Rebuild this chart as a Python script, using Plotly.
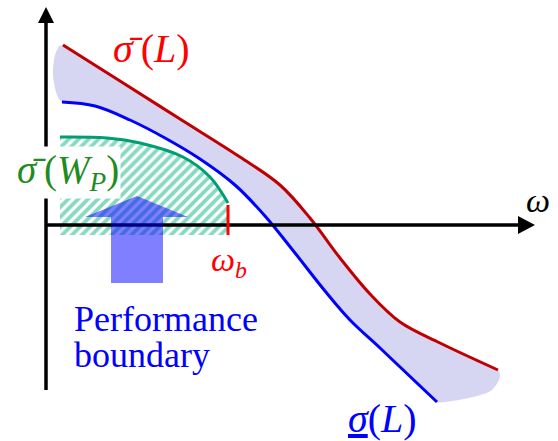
import plotly.graph_objects as go

# Diagram units: origin at the axes corner, one unit per pixel.
# Upper singular value curve  sigma_bar(L)
w_upper = [17, 74, 134, 194, 234, 264, 294, 324, 354, 394, 452]
mag_upper = [180, 144, 106, 68, 40, 7, -33, -69, -97, -118, -145]

# Lower singular value curve  sigma_underline(L)
w_lower = [16, 49, 84, 119, 154, 189, 219, 249, 279, 304, 334, 391]
mag_lower = [123, 119, 105, 87, 66, 40, 9, -28, -66, -95, -123, -177]

# Rounded ends of the band between the two curves
cap_right_w = [454, 446, 427, 399]
cap_right_mag = [-152, -165, -172, -177]
cap_left_w = [11, 7, 9, 13]
cap_left_mag = [130, 150, 170, 179]

# Performance weight sigma_bar(W_P) up to the bandwidth w_b
w_perf = [14, 61, 94, 137, 164, 182]
mag_perf = [88, 87, 82, 68, 48, 22]
perf_floor = -10
w_b = 182

# Upward "performance boundary" arrow outline
arrow_w = [91, 142, 117, 117, 65, 65, 39]
arrow_mag = [29, 8, 8, -58, -58, 8, 8]

RED_LINE = "#c00000"
RED_TEXT = "#ff0000"
BLUE = "#0000ff"
GREEN_LINE = "#009e73"
HATCH = "#12b383"
GREEN_TEXT = "#1f8c1f"
BAND = "#d6d6f3"
FONT = "Liberation Serif"
TS = "\u2009"  # thin space after the barred sigma

fig = go.Figure()

# shaded band between the singular values
band_x = w_upper + cap_right_w + w_lower[::-1] + cap_left_w
band_y = mag_upper + cap_right_mag + mag_lower[::-1] + cap_left_mag
fig.add_trace(go.Scatter(
    x=band_x, y=band_y, mode="lines", fill="toself", fillcolor=BAND,
    line=dict(width=0, color="rgba(0,0,0,0)", shape="spline", smoothing=0.8),
    hoverinfo="skip"))

# hatched performance region
hx = w_perf + [w_b, w_perf[0]]
hy = mag_perf + [perf_floor, perf_floor]
fig.add_trace(go.Scatter(
    x=hx, y=hy, mode="lines", fill="toself", fillcolor="rgba(0,0,0,0)",
    fillpattern=dict(shape="/", fgcolor=HATCH, bgcolor="rgba(0,0,0,0)",
                     size=7, solidity=0.55),
    line=dict(width=0, color="rgba(0,0,0,0)"), hoverinfo="skip"))

fig.add_trace(go.Scatter(x=w_perf, y=mag_perf, mode="lines",
                         line=dict(color=GREEN_LINE, width=3, shape="spline"),
                         hoverinfo="skip"))
fig.add_trace(go.Scatter(x=w_upper, y=mag_upper, mode="lines",
                         line=dict(color=RED_LINE, width=3, shape="spline", smoothing=1),
                         hoverinfo="skip"))
fig.add_trace(go.Scatter(x=w_lower, y=mag_lower, mode="lines",
                         line=dict(color=BLUE, width=3, shape="spline", smoothing=1),
                         hoverinfo="skip"))

shapes = []
# axes with arrow heads
shapes.append(dict(type="line", x0=0, x1=0, y0=-165, y1=204,
                   line=dict(color="black", width=3.5)))
shapes.append(dict(type="path", path="M -8,202 L 8,202 L 0,218 Z",
                   fillcolor="black", line=dict(width=0)))
shapes.append(dict(type="line", x0=0, x1=474, y0=0, y1=0,
                   line=dict(color="black", width=3.5)))
shapes.append(dict(type="path", path="M 472,9 L 472,-9 L 489,0 Z",
                   fillcolor="black", line=dict(width=0)))
# bandwidth tick
shapes.append(dict(type="line", x0=w_b, x1=w_b, y0=perf_floor, y1=20,
                   line=dict(color=RED_TEXT, width=3)))
# performance arrow
apath = "M " + " L ".join(f"{a},{b}" for a, b in zip(arrow_w, arrow_mag)) + " Z"
shapes.append(dict(type="path", path=apath, fillcolor="rgba(0,0,255,0.5)",
                   line=dict(width=0)))

annotations = [
    dict(x=105, y=177, text=f"<i>σ̄</i>{TS}(<i>L</i>)",
         font=dict(color=RED_TEXT, size=40, family=FONT)),
    dict(x=22, y=53, text=f"<i>σ̄</i>{TS}(<i>W</i><sub><i>P</i></sub>)", bgcolor="white",
         font=dict(color=GREEN_TEXT, size=39, family=FONT)),
    dict(x=183, y=-37, text="<i>ω</i><sub><i>b</i></sub>", font=dict(color=RED_TEXT, size=34, family=FONT)),
    dict(x=492, y=25, text="<i>ω</i>", font=dict(color="black", size=34, family=FONT)),
    dict(x=336, y=-193, text="<u><i>σ</i></u>(<i>L</i>)",
         font=dict(color=BLUE, size=40, family=FONT)),
    dict(x=26, y=-94, text="Performance", xanchor="left",
         font=dict(color=BLUE, size=36, family=FONT)),
    dict(x=26, y=-130, text="boundary", xanchor="left",
         font=dict(color=BLUE, size=36, family=FONT)),
]
for a in annotations:
    a.setdefault("xanchor", "center")
    a["yanchor"] = "middle"
    a["showarrow"] = False
    a["xref"] = "x"
    a["yref"] = "y"

fig.update_layout(
    width=558, height=441, margin=dict(l=0, r=0, t=0, b=0),
    paper_bgcolor="white", plot_bgcolor="white", showlegend=False,
    font=dict(family=FONT),
    xaxis=dict(range=[-46, 512], visible=False, fixedrange=True),
    yaxis=dict(range=[-216, 225], visible=False, fixedrange=True),
    shapes=shapes, annotations=annotations,
)

fig.write_html("out.html")
